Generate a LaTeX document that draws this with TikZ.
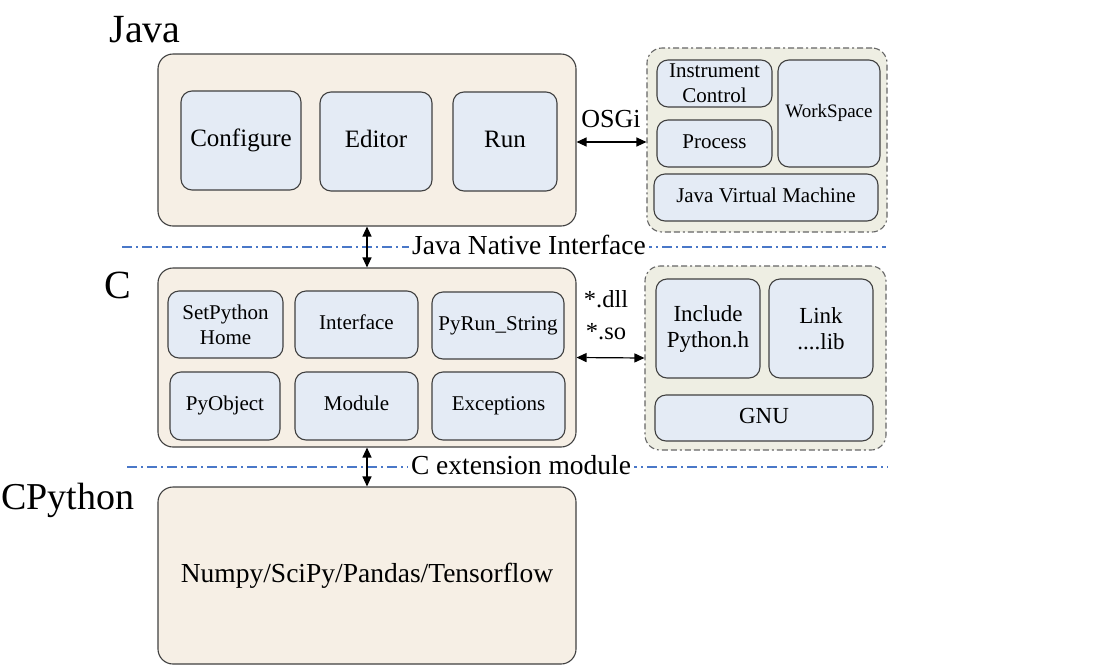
\documentclass[tikz,border=0pt]{standalone}
\usepackage{fontspec}
\setmainfont{Liberation Serif}
\usetikzlibrary{arrows.meta}
\definecolor{outerfill}{HTML}{F6EFE5}
\definecolor{innerfill}{HTML}{E4EBF5}
\definecolor{groupfill}{HTML}{EEEEE3}
\definecolor{edgegray}{HTML}{404040}
\definecolor{sepblue}{HTML}{4A78C8}
\tikzset{
  outerbox/.style={draw=edgegray, line width=1.1pt, fill=outerfill, rounded corners=15pt, inner sep=0pt},
  innerbox/.style={draw=edgegray, line width=1.1pt, fill=innerfill, rounded corners=11pt, inner sep=0pt, align=center},
  oneline/.style n args={2}{text height=#1, text depth=#2},
  bigtxt/.style={font=\fontsize{25}{30}\selectfont},
  midtxt/.style={font=\fontsize{21}{25}\selectfont},
  smalltxt/.style={font=\fontsize{19}{22}\selectfont},
  incl/.style={font=\fontsize{23}{26}\selectfont},
  title/.style={font=\fontsize{40}{44}\selectfont, inner sep=0pt},
  groupbox/.style={draw=edgegray!80, line width=1.1pt, fill=groupfill, rounded corners=15pt, inner sep=0pt, dash pattern=on 6pt off 3pt on 6pt off 3pt on 2pt off 3pt},
  twoway/.style={{Triangle[length=10pt,width=9pt]}-{Triangle[length=10pt,width=9pt]}, line width=1.2pt, black},
  sepline/.style={draw=sepblue, line width=1.4pt, dash pattern=on 10pt off 4pt on 2pt off 4pt},
  seplabel/.style={fill=white, inner sep=3pt, font=\fontsize{27.5}{30}\selectfont},
}
\begin{document}
\begin{tikzpicture}[x=1pt,y=-1pt]
\useasboundingbox (0,0) rectangle (1114,670);
% titles
\node[title] (tjava) at (145,30) {Java};
\node[title] (tc) at (118,285) {C};
\node[title, font=\fontsize{38}{44}\selectfont] (tcpy) at (68,500) {CPython};

% separator lines
\coordinate (l1a) at (122,247);
\coordinate (l1b) at (886,247);
\draw[sepline] (l1a) -- (l1b);
\node[seplabel] (jni) at (529,245) {Java Native Interface};
\coordinate (l2a) at (127,467);
\coordinate (l2b) at (888,467);
\draw[sepline] (l2a) -- (l2b);
\node[seplabel] (cext) at (521,465) {C extension module};

% Java layer
\node[outerbox, minimum width=418pt, minimum height=172pt] (java) at (367,140) {};
\node[innerbox, oneline={17.5pt}{6.25pt}, bigtxt, minimum width=120pt, minimum height=99pt] (configure) at (241,140.5) {Configure};
\node[innerbox, oneline={17.5pt}{6.25pt}, bigtxt, minimum width=112pt, minimum height=99pt] (editor) at (376,141.5) {Editor};
\node[innerbox, oneline={17.5pt}{6.25pt}, bigtxt, minimum width=104pt, minimum height=99pt] (run) at (505,141.5) {Run};

% OSGi group
\node[groupbox, minimum width=240pt, minimum height=184pt] (g1) at (767,140) {};
\node[innerbox, midtxt, minimum width=115pt, minimum height=47pt] (instr) at (714.5,83.5) {Instrument\\Control};
\node[innerbox, oneline={14.7pt}{5.25pt}, midtxt, minimum width=115pt, minimum height=47pt] (process) at (714.5,143.5) {Process};
\node[innerbox, oneline={13.3pt}{4.75pt}, smalltxt, minimum width=102pt, minimum height=107pt] (workspace) at (829,113.5) {WorkSpace};
\node[innerbox, oneline={14.7pt}{5.25pt}, midtxt, minimum width=224pt, minimum height=47pt] (jvm) at (766,197.5) {Java Virtual Machine};
\node[inner sep=0pt, font=\fontsize{26}{30}\selectfont] (osgi) at (611,119) {OSGi};
\draw[twoway] ([yshift=-2pt]java.east) -- ([yshift=-2pt]g1.west);

% C layer
\node[outerbox, minimum width=418pt, minimum height=179pt] (clayer) at (367,357.5) {};
\node[innerbox, midtxt, minimum width=115pt, minimum height=67pt] (setpy) at (225.5,324.5) {SetPython\\Home};
\node[innerbox, oneline={14.7pt}{5.25pt}, midtxt, minimum width=123pt, minimum height=67pt] (iface) at (356.5,324.5) {Interface};
\node[innerbox, oneline={14.7pt}{5.25pt}, midtxt, minimum width=132pt, minimum height=67pt] (pyrun) at (498,325.5) {PyRun\_String};
\node[innerbox, oneline={14.7pt}{5.25pt}, midtxt, minimum width=110pt, minimum height=68pt] (pyobj) at (225,406) {PyObject};
\node[innerbox, oneline={14.7pt}{5.25pt}, midtxt, minimum width=123pt, minimum height=68pt] (module) at (356.5,406) {Module};
\node[innerbox, oneline={14.7pt}{5.25pt}, midtxt, minimum width=133pt, minimum height=68pt] (exc) at (498.5,406) {Exceptions};

% dll group
\node[groupbox, minimum width=241pt, minimum height=184pt] (g2) at (765.5,358) {};
\node[innerbox, incl, minimum width=104pt, minimum height=99pt] (incl) at (708,328.5) {Include\\Python.h};
\node[innerbox, incl, minimum width=104pt, minimum height=99pt] (link) at (821,328.5) {Link\\....lib};
\node[innerbox, oneline={16.1pt}{5.75pt}, incl, minimum width=218pt, minimum height=46pt] (gnu) at (764,418) {GNU};
\node[align=center, inner sep=0pt, font=\fontsize{24.5}{32}\selectfont] (dll) at (606,315) {*.dll\\*.so};
\draw[twoway] (clayer.east) -- (g2.west);

% CPython layer
\node[outerbox, minimum width=418pt, minimum height=177pt] (cpy) at (367,575.5) {};
\node[inner sep=0pt, oneline={19.25pt}{6.9pt}, font=\fontsize{27.5}{30}\selectfont] (libs) at (367,576) {Numpy/SciPy/Pandas/Tensorflow};

% vertical arrows
\draw[twoway] (java.south) -- (clayer.north);
\draw[twoway] (clayer.south) -- (cpy.north);
\end{tikzpicture}
\end{document}
